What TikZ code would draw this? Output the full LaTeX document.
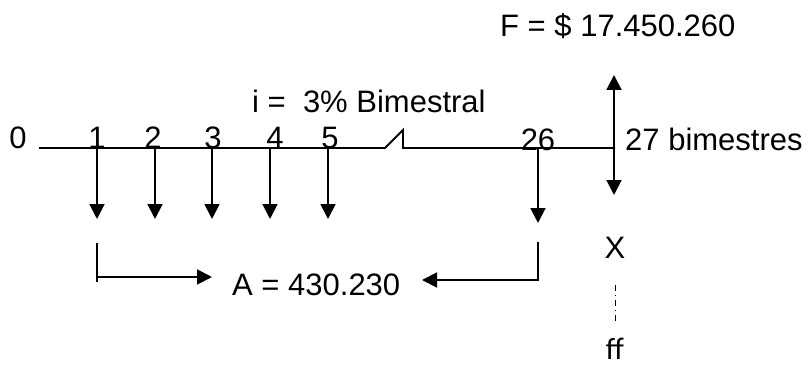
\documentclass[tikz,border=0pt]{standalone}
\usepackage{fontspec}
\setmainfont{Liberation Sans}
\newfontfamily\calfont{Carlito}
\usetikzlibrary{arrows.meta}
\begin{document}
\begin{tikzpicture}[x=1pt,y=-1pt,
  lbl/.style={inner sep=0pt,font=\fontsize{31}{37}\selectfont},
  ln/.style={line width=1.9pt},
  tip/.tip={Triangle[length=15pt,width=15pt]},
  arr/.style={ln,-tip}]
\useasboundingbox (0,0) rectangle (809,369);
% labels
\node[lbl,anchor=base] (t0) at (18,148) {0};
\node[lbl,anchor=base] (t1) at (97,148) {1};
\node[lbl,anchor=base] (t2) at (153,148) {2};
\node[lbl,anchor=base] (t3) at (213,148) {3};
\node[lbl,anchor=base] (t4) at (275,148) {4};
\node[lbl,anchor=base] (t5) at (330,148) {5};
\node[lbl,anchor=base] (t26) at (538,150) {26};
\node[lbl,anchor=base west] (t27) at (625,150) {27 bimestres};
\node[lbl,anchor=base west] (rate) at (252,112) {i = \ 3\% Bimestral};
\node[lbl,anchor=base west] (F) at (500,37) {F = \$ 17.450.260};
\node[lbl,anchor=base] (X) at (615,258) {X};
\node[lbl,anchor=base west] (A) at (232,295) {A = 430.230};
\node[lbl,anchor=base] (ff) at (615,359) {\calfont ff};
% axis
\coordinate (a0) at (39,148);
\coordinate (b1) at (385,148);
\coordinate (b2) at (403,130);
\coordinate (b3) at (403,148);
\coordinate (aE) at (615,148);
\draw[ln] (a0) -- (b1) -- (b2) -- (b3) -- (aE);
% payments
\foreach \n/\x in {1/97,2/155,3/212,4/270,5/328}{
  \coordinate (p\n) at (\x,148);
  \coordinate (q\n) at (\x,219);
  \draw[arr] (p\n) -- (q\n);
}
\coordinate (p26) at (538,148);
\coordinate (q26) at (538,223);
\draw[arr] (p26) -- (q26);
% future value double arrow
\coordinate (Fu) at (614,75);
\coordinate (Fd) at (614,195);
\draw[ln,tip-tip] (Fd) -- (Fu);
% brackets
\coordinate (L1) at (97,243);
\coordinate (L2) at (97,282);
\coordinate (L3) at (97,277);
\coordinate (L4) at (212,277);
\draw[ln] (L1) -- (L2);
\draw[arr] (L3) -- (L4);
\coordinate (R1) at (538,242);
\coordinate (R2) at (538,281);
\coordinate (R3) at (538,280);
\coordinate (R4) at (422,280);
\draw[ln] (R1) -- (R2);
\draw[arr] (R3) -- (R4);
% dotted link X to ff
\coordinate (d1) at (615,285);
\coordinate (d2) at (615,322);
\draw[line width=1pt,dash pattern=on 6pt off 4pt on 1pt off 4pt] (d1) -- (d2);
\end{tikzpicture}
\end{document}
